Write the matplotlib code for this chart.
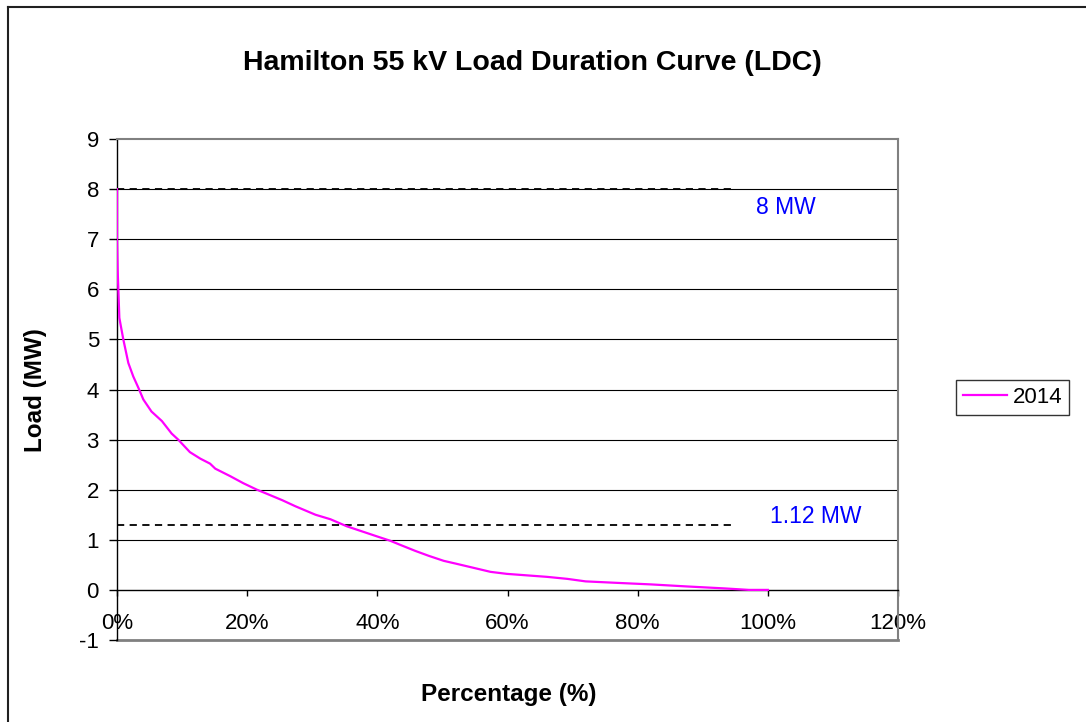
import matplotlib
matplotlib.use("Agg")
import matplotlib.pyplot as plt
from matplotlib.lines import Line2D
from matplotlib.ticker import FuncFormatter

plt.rcParams['font.family'] = ['Liberation Sans', 'DejaVu Sans']
plt.rcParams['axes.unicode_minus'] = False

# ---- data ----
pct = [0, 0.0, 0.1, 0.36, 0.97, 1.74, 2.5, 3.3, 4.05, 5.3, 6.9, 8.4, 9.4, 11.2,
       12.8, 14.3, 15.1, 17.4, 19.4, 21.5, 23.0, 25.4, 27.4, 30.5, 32.8, 35.3,
       39.9, 42.0, 43.5, 45.8, 47.9, 50.2, 52.2, 54.8, 57.4, 59.9, 63.0, 66.1,
       69.2, 72.0, 76.9, 82.0, 87.4, 93.3, 97.1, 100.0]
load_2014 = [8.0, 7.0, 6.39, 5.43, 5.0, 4.53, 4.26, 4.03, 3.8, 3.56, 3.37, 3.12,
             3.0, 2.75, 2.62, 2.52, 2.42, 2.27, 2.13, 2.0, 1.92, 1.79, 1.67, 1.5,
             1.41, 1.27, 1.07, 0.98, 0.9, 0.78, 0.68, 0.58, 0.52, 0.44, 0.36,
             0.32, 0.29, 0.26, 0.22, 0.17, 0.14, 0.11, 0.07, 0.03, 0.0, 0.0]
series_label = "2014"
ref_levels = [8.0, 1.3]
ref_labels = ["8 MW", "1.12 MW"]
ref_end = 95.1
x_ticks = [0, 20, 40, 60, 80, 100, 120]
y_ticks = [-1, 0, 1, 2, 3, 4, 5, 6, 7, 8, 9]

W, H = 1086, 722
fig = plt.figure(figsize=(W / 100, H / 100), dpi=100)
fig.patch.set_facecolor('white')

L, R, T, B = 117, 898, 139, 640
ax = fig.add_axes([L / W, (H - B) / H, (R - L) / W, (B - T) / H])

ax.set_xlim(0, 120)
ax.set_ylim(-1, 9)

# gridlines
for yv in range(1, 9):
    ax.axhline(yv, color='black', lw=0.8, zorder=1)

# reference dashed lines
for lvl in ref_levels:
    ax.plot([0, ref_end], [lvl, lvl], color='black', lw=1.3,
            linestyle=(0, (4, 3)), zorder=2)

# curve
ax.plot(pct, load_2014, color='#FF00FF', lw=1.6, label=series_label, zorder=3)

# annotations
ax.text(102.7, 7.64, ref_labels[0], color='#0000FF', fontsize=16.5,
        ha='center', va='center')
ax.text(107.3, 1.46, ref_labels[1], color='#0000FF', fontsize=16.5,
        ha='center', va='center')

# spines / frame
ax.spines['bottom'].set_position(('data', 0))
ax.spines['bottom'].set_color('black')
ax.spines['bottom'].set_linewidth(1.0)
ax.spines['left'].set_color('black')
ax.spines['left'].set_linewidth(1.0)
for s in ['top', 'right']:
    ax.spines[s].set_color('#808080')
    ax.spines[s].set_linewidth(1.5)
ax.axhline(-1, color='#808080', lw=2.0, clip_on=False, zorder=0)

ax.set_xticks(x_ticks)
ax.set_yticks(y_ticks)
ax.xaxis.set_major_formatter(FuncFormatter(lambda v, p: f"{int(round(v))}%"))
ax.tick_params(axis='x', direction='out', length=4.5, width=1.0,
               pad=12, labelsize=16)
ax.tick_params(axis='y', direction='out', length=6, width=1.0,
               pad=7, labelsize=16)

ax.set_xlabel("Percentage (%)", fontsize=17.5, fontweight='bold')
ax.set_ylabel("Load (MW)", fontsize=17.5, fontweight='bold')
ax.xaxis.set_label_coords((509 - L) / (R - L), (B - 683) / (B - T))
ax.yaxis.set_label_coords((47 - L) / (R - L), (B - 390) / (B - T))

fig.text(532 / W, 1 - 63 / H, "Hamilton 55 kV Load Duration Curve (LDC)",
         fontsize=20.5, fontweight='bold', ha='center', va='center')

leg = fig.legend(loc='center', bbox_to_anchor=((954 + 1071) / 2 / W, 1 - 397.5 / H),
                 frameon=True, fancybox=False, shadow=False, fontsize=16,
                 handlelength=2.0, handletextpad=0.25, borderpad=0.3,
                 borderaxespad=0)
leg.get_frame().set_edgecolor('black')
leg.get_frame().set_linewidth(1.0)

# outer chart border (left and top visible)
fig.add_artist(Line2D([7.5 / W, 7.5 / W], [0, 1 - 6.5 / H], color='#202020',
                      lw=1.5, transform=fig.transFigure))
fig.add_artist(Line2D([7.5 / W, 1], [1 - 6.5 / H, 1 - 6.5 / H], color='#202020',
                      lw=1.5, transform=fig.transFigure))

fig.savefig("out.png", dpi=100)
